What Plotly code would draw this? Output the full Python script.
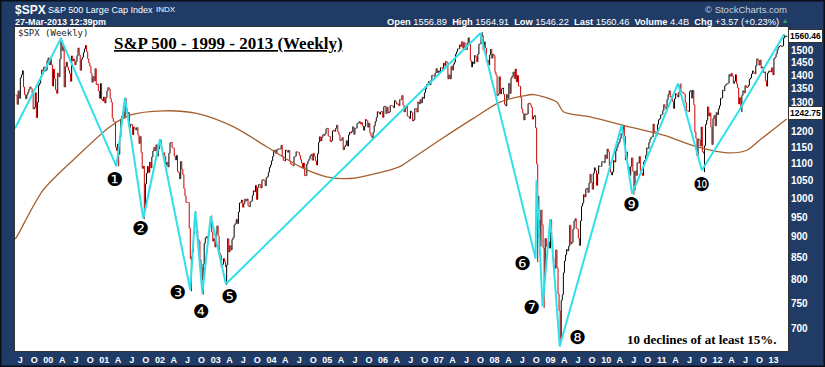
import numpy as np
import pandas as pd
import plotly.graph_objects as go

# ---------------- data: weekly closes of $SPX (week ending Friday) ----------------
c1999 = [1327.8,1293.6,1342.8,1315.3,1391.2,1403.3,1418.8,1356.9,1328.7,1313.7,1327.7,1336.6,1348.3,1357.2,1351.7,1335.4,
         1277.4,1282.8,1336.0,1247.4,1301.7,1362.9,1370.2,1396.1,1422.0,1416.6,1433.3,1417.0,1421.0,1458.3,1469.3]
c2000 = [1441.5,1465.2,1441.4,1360.2,1424.4,1387.1,1346.1,1333.4,1409.2,1395.1,1464.5,1527.5,1498.6,1516.4,1356.6,1434.5,
         1452.4,1432.6,1420.9,1406.9,1378.0,1477.3,1456.9,1464.5,1441.5,1454.6,1478.9,1509.9,1480.2,1419.9,1462.9,1471.8,
         1491.7,1506.5,1520.8,1494.5,1465.8,1449.1,1436.5,1408.9,1374.2,1396.9,1379.6,1426.7,1365.9,1367.7,1341.8,1315.2,
         1369.9,1312.2,1305.9,1320.3]
c2001 = [1298.4,1318.3,1342.5,1354.9,1349.5,1314.8,1301.5,1245.9,1234.2,1233.4,1150.5,1139.8,1160.3,1128.4,1183.5,1242.9,
         1253.1,1266.6,1245.7,1291.9,1277.9,1260.7,1264.96,1214.4,1225.4,1224.4,1190.6,1215.7,1210.9,1205.8,1214.4,1190.2,
         1161.97,1184.9,1133.6,1085.8,1092.5,965.8,1040.9,1071.4,1091.7,1073.5,1104.6,1087.2,1120.3,1138.7,1150.3,1139.5,
         1158.3,1123.1,1144.9,1161.0]
c2002 = [1172.5,1145.6,1127.6,1133.3,1122.2,1096.2,1104.2,1089.8,1131.8,1164.3,1166.2,1148.7,1147.4,1122.7,1111.0,1125.2,
         1076.3,1073.4,1054.99,1106.6,1083.8,1067.1,1027.5,1007.3,989.1,989.8,989.0,921.4,847.8,852.8,864.2,908.6,
         928.8,940.9,916.1,893.9,889.8,845.4,827.4,800.6,835.3,884.4,897.7,900.96,894.7,909.8,930.6,936.3,
         912.2,889.5,895.8,875.4]
c2003 = [908.6,927.6,901.8,861.4,855.7,829.7,834.9,848.2,841.2,828.9,833.3,895.8,863.5,878.9,868.3,893.6,
         898.8,930.1,933.4,944.3,933.2,963.6,987.8,988.6,995.7,976.2,985.7,998.1,993.3,998.7,980.2,977.6,
         990.7,993.1,1008.0,1021.4,1018.6,1036.3,996.9,1029.9,1038.7,1039.3,1028.9,1050.7,1053.2,1050.4,1035.3,1058.2,
         1061.5,1074.1,1088.7,1095.9]
c2004 = [1108.5,1121.9,1139.8,1141.6,1131.1,1142.8,1145.8,1144.1,1144.9,1156.9,1120.6,1109.8,1108.1,1141.8,1139.3,1134.6,
         1140.6,1107.3,1098.7,1095.7,1093.6,1120.7,1122.5,1136.5,1135.0,1134.4,1125.4,1112.8,1101.4,1086.2,1101.7,1063.97,
         1064.8,1098.6,1107.8,1113.6,1123.9,1128.6,1110.1,1131.5,1122.1,1108.2,1095.7,1130.2,1166.2,1184.2,1170.3,1182.7,
         1191.2,1188.0,1194.2,1210.1,1211.9]
c2005 = [1186.2,1184.5,1167.9,1171.4,1203.0,1205.3,1201.6,1211.4,1222.1,1200.1,1190.2,1171.4,1172.9,1181.2,1142.6,1152.1,
         1156.9,1171.4,1154.1,1189.3,1198.8,1196.0,1200.9,1216.96,1191.6,1211.9,1211.9,1227.9,1229.3,1234.2,1226.4,1230.4,
         1219.7,1205.1,1218.0,1241.5,1237.9,1215.3,1228.8,1195.9,1186.6,1179.6,1198.4,1220.1,1234.7,1248.3,1268.3,1265.1,
         1259.4,1267.3,1268.7,1248.3]
c2006 = [1285.5,1287.6,1261.5,1283.7,1264.0,1266.99,1289.4,1289.4,1287.2,1281.6,1307.3,1302.95,1294.8,1295.5,1289.1,1311.3,
         1310.6,1325.8,1291.2,1267.0,1280.2,1288.2,1252.3,1251.5,1244.5,1270.2,1265.5,1236.2,1240.3,1278.6,1279.4,1266.7,
         1302.3,1295.1,1311.0,1298.9,1319.7,1314.8,1335.85,1349.6,1365.6,1368.6,1377.3,1364.3,1380.9,1401.2,1400.95,1396.7,
         1409.8,1427.1,1410.8,1418.3]
c2007 = [1409.7,1430.7,1430.5,1422.2,1448.4,1438.1,1455.5,1451.2,1387.2,1402.8,1386.95,1436.1,1420.9,1443.8,1452.9,1484.4,
         1494.1,1505.6,1505.85,1522.8,1515.7,1536.3,1507.7,1532.9,1502.6,1503.35,1530.4,1552.5,1534.1,1458.95,1433.1,1453.6,
         1445.9,1479.4,1473.99,1453.55,1484.25,1525.75,1526.75,1557.6,1561.8,1500.6,1535.3,1509.65,1453.7,1458.7,1440.7,1481.1,
         1504.7,1467.95,1484.5,1478.5]
c2008 = [1411.6,1401.0,1325.2,1330.6,1395.4,1331.3,1349.99,1353.1,1330.6,1293.4,1288.1,1329.5,1315.2,1370.4,1332.8,1390.3,
         1397.8,1413.9,1388.3,1425.35,1375.9,1400.4,1360.7,1360.0,1317.9,1278.4,1262.9,1239.5,1260.7,1257.8,1260.3,1296.3,
         1298.2,1292.2,1282.8,1242.3,1251.7,1255.1,1213.3,1099.2,899.2,940.6,876.8,968.75,930.99,873.3,800.0,896.2,
         876.1,879.7,887.9,872.8]
c2009 = [931.8,890.4,850.1,831.95,825.9,868.6,826.8,770.05,735.1,683.4,756.55,768.5,815.9,842.5,856.6,869.6,
         866.2,877.5,929.2,882.9,887.0,919.1,940.1,946.2,921.2,918.9,896.4,879.1,940.4,979.3,987.5,1010.5,
         1004.1,1026.1,1028.9,1016.4,1042.7,1068.3,1044.4,1025.2,1071.5,1087.7,1079.6,1036.2,1069.3,1093.5,1091.4,1091.5,
         1105.98,1106.4,1102.5,1126.5]
c2010 = [1115.1,1144.98,1136.0,1091.8,1073.9,1066.2,1075.5,1109.2,1104.5,1138.7,1149.99,1159.9,1166.6,1178.1,1194.4,1192.1,
         1217.3,1186.7,1110.9,1135.7,1087.7,1089.4,1064.9,1091.6,1117.5,1076.8,1022.6,1078.0,1064.9,1102.7,1101.6,1121.6,
         1079.3,1071.7,1064.6,1104.5,1109.6,1125.6,1148.7,1146.2,1165.2,1176.2,1183.1,1183.3,1225.9,1199.2,1199.7,1189.4,
         1224.7,1240.4,1243.9,1256.8,1257.6]
c2011 = [1271.5,1293.2,1283.4,1276.3,1310.9,1329.2,1343.0,1319.9,1321.2,1304.3,1279.2,1313.8,1332.4,1328.2,1319.7,1337.4,
         1363.6,1340.2,1338.0,1333.3,1331.1,1300.2,1270.98,1271.5,1268.45,1339.7,1343.8,1316.1,1345.0,1292.3,1199.4,1178.8,
         1123.5,1176.8,1173.97,1154.2,1216.0,1136.4,1131.4,1155.5,1224.6,1238.3,1285.1,1253.2,1263.9,1215.65,1158.7,1244.3,
         1255.2,1219.7,1265.3,1257.6]
c2012 = [1277.8,1289.1,1315.4,1316.3,1344.9,1342.6,1361.2,1365.7,1369.6,1370.9,1404.2,1397.1,1408.5,1398.1,1370.3,1378.5,
         1403.4,1369.1,1353.4,1295.2,1317.8,1278.0,1325.7,1342.8,1335.0,1362.2,1354.7,1356.8,1362.7,1385.97,1390.99,1405.9,
         1418.2,1411.1,1406.6,1437.9,1465.8,1460.2,1440.7,1460.9,1428.6,1433.2,1411.9,1414.2,1379.9,1359.9,1409.2,1416.2,
         1418.1,1413.6,1430.2,1402.4]
c2013 = [1466.5,1472.1,1485.98,1502.96,1513.2,1517.9,1519.8,1515.6,1518.2,1551.2,1560.7,1556.9,1560.46]

year_first_friday = ['1999-06-04','2000-01-07','2001-01-05','2002-01-04','2003-01-03','2004-01-02','2005-01-07',
                     '2006-01-06','2007-01-05','2008-01-04','2009-01-02','2010-01-01','2011-01-07','2012-01-06','2013-01-04']
year_closes = [c1999,c2000,c2001,c2002,c2003,c2004,c2005,c2006,c2007,c2008,c2009,c2010,c2011,c2012,c2013]

# intraday extremes of the turning weeks
ext_dates = ['2000-03-24','2001-04-06','2001-05-25','2001-09-21','2002-01-04','2002-07-26','2002-08-23','2002-10-11',
             '2002-12-06','2003-03-14','2007-10-12','2008-10-10','2008-10-17','2008-11-21','2009-01-09','2009-03-06',
             '2010-04-30','2010-07-02','2011-05-06','2011-10-07','2012-06-08','2013-03-15']
ext_prices = [1552.9,1092.0,1315.9,944.8,1176.6,775.7,965.0,768.6,954.3,788.9,1576.1,839.8,1006.9,741.0,943.9,666.8,
              1219.8,1010.9,1370.6,1074.8,1266.7,1563.6]

# 200-week moving average
ma_dates = ['1999-05-28','1999-06-08','1999-11-28','2000-07-05','2001-02-08','2001-06-19','2002-01-23','2002-08-29',
            '2003-04-26','2003-12-01','2004-07-06','2004-12-28','2005-05-30','2005-11-20','2006-04-21','2006-06-27',
            '2007-01-10','2007-08-15','2008-02-06','2008-07-08','2008-09-12','2009-02-12','2009-03-27','2009-09-19',
            '2010-04-04','2011-01-12','2011-08-17','2012-03-01','2012-07-10','2012-10-05','2013-03-28']
ma_values = [895,900,1023,1121,1217,1256,1271,1262,1217,1152,1091,1061,1056,1071,1091,1111,
             1174,1245,1302,1324,1329,1302,1268,1250,1224,1189,1152,1133,1141,1174,1242.75]

# zigzag of declines (cyan)
zz_dates = ['1999-05-28','2000-03-23','2001-03-22','2001-05-17','2001-09-14','2002-01-02','2002-07-19','2002-08-20',
            '2002-10-06','2002-11-30','2003-03-09','2007-09-30','2008-09-26','2008-10-02','2008-11-11','2008-12-31',
            '2009-03-03','2010-04-13','2010-06-20','2011-04-17','2011-09-20','2012-05-16','2013-03-12']
zz_prices = [1212,1549,1092,1318,946,1176,778,964,772,953,791,1572,848,1050,744,945,
             667,1222,1013,1370,1080,1268,1568]

decline_labels = ['\u2776','\u2777','\u2778','\u2779','\u277A','\u277B','\u277C','\u277D','\u277E','\u277F']

y_ticks = [700,750,800,850,900,950,1000,1050,1100,1150,1200,1300,1350,1400,1450,1500]
year_labels = ['00','01','02','03','04','05','06','07','08','09','10','11','12','13']
quarter_letters = ['A','J','O']

# ---------------- build bars ----------------
dates, closes = [], []
for first, lst in zip(year_first_friday, year_closes):
    dates.extend(pd.date_range(first, periods=len(lst), freq='7D'))
    closes.extend(lst)
dates = pd.DatetimeIndex(dates)
closes = np.array(closes, dtype=float)
opens = np.concatenate([[closes[0]], closes[:-1]])
highs = np.maximum(opens, closes)
lows = np.minimum(opens, closes)
for d, p in zip(pd.to_datetime(ext_dates), ext_prices):
    i = min(dates.searchsorted(d), len(dates) - 1)
    highs[i] = max(highs[i], p)
    lows[i] = min(lows[i], p)

tick_text = ['J', 'O']
for yl in year_labels[:-1]:
    tick_text += [yl] + quarter_letters
tick_text += [year_labels[-1]]
tick_vals = pd.date_range('1999-07-01', periods=len(tick_text), freq='QS')

FRAME = '#1f3b66'
fig = go.Figure()
fig.add_trace(go.Ohlc(x=dates, open=opens, high=highs, low=lows, close=closes,
                      increasing=dict(line=dict(color='#000000', width=1)),
                      decreasing=dict(line=dict(color='#cc0000', width=1)),
                      tickwidth=0.3, hoverinfo='skip', showlegend=False))
fig.add_trace(go.Scatter(x=ma_dates, y=ma_values, mode='lines',
                         line=dict(color='#a65f2e', width=1.3, shape='spline', smoothing=0.8),
                         hoverinfo='skip', showlegend=False))
fig.add_trace(go.Scatter(x=zz_dates, y=zz_prices, mode='lines',
                         line=dict(color='#2fe0ea', width=2),
                         hoverinfo='skip', showlegend=False))

L, R, T, B = 15, 788, 27, 351
W, H = R - L, B - T


def P(px, py):
    return (px - L) / W, (B - py) / H


anns = []


def txt(px, py, text, size, color='white', xanchor='left', family='Liberation Sans', weight='normal', **kw):
    x, y = P(px, py)
    anns.append(dict(x=x, y=y, xref='paper', yref='paper', text=text, showarrow=False, xanchor=xanchor,
                     yanchor='middle', font=dict(size=size, color=color, family=family, weight=weight), **kw))


# header
txt(13, 10, '$SPX', 12, weight='bold')
txt(46, 10, 'S&P 500 Large Cap Index', 9)
txt(154, 10, 'INDX', 8)
txt(13, 22, '27-Mar-2013 12:39pm', 9, weight='bold')
txt(781, 22, '<b>Open</b> 1556.89  <b>High</b> 1564.91  <b>Low</b> 1546.22  <b>Last</b> 1560.46  '
             '<b>Volume</b> 4.4B  <b>Chg</b> +3.57 (+0.23%)', 9.3, xanchor='right')
txt(781, 21, '\u25b4', 8, color='#3aa35a')
txt(789, 10, '\u00a9 StockCharts.com', 9.5, color='#c9d2de', xanchor='right')

# inside plot
txt(16, 33, '$SPX (Weekly)', 9, color='#222222', family='DejaVu Sans Mono')
anns.append(dict(x=P(228, 43)[0], y=P(228, 43)[1], xref='paper', yref='paper',
                 text='S&P 500 - 1999 - 2013 (Weekly)', showarrow=False, xanchor='center', yanchor='middle',
                 font=dict(size=17, color='#000000', family='Liberation Serif', weight='bold', lineposition='under')))
txt(778, 339, '10 declines of at least 15%.', 13, color='#000000', xanchor='right',
    family='Liberation Serif', weight='bold')

num_pos = [(114.3, 179), (140.5, 228), (177.3, 292), (201.7, 311), (229, 295.7),
           (522.3, 262.7), (531.7, 306.7), (577, 337), (631, 204), (701.7, 184)]
for lab, (px, py) in zip(decline_labels, num_pos):
    txt(px, py, lab, 19, color='#000000', xanchor='center', family='DejaVu Sans')

# price flags on the right axis
for lab, py in [('1560.46', 35.6), ('1242.75', 113)]:
    txt(788, py, lab, 8.5, color='#000000', weight='bold', bgcolor='#ffffff', bordercolor='#333333',
        borderwidth=1, borderpad=1)

fig.update_layout(
    width=825, height=367,
    margin=dict(l=L, r=825 - R, t=T, b=367 - B, autoexpand=False),
    paper_bgcolor=FRAME, plot_bgcolor='#ffffff',
    showlegend=False,
    annotations=anns,
    shapes=[dict(type='rect', xref='paper', yref='paper',
                 x0=P(0.5, 0)[0], x1=P(824.5, 0)[0], y0=P(0, 366.5)[1], y1=P(0, 0.5)[1],
                 line=dict(color='#0b0f18', width=2), fillcolor='rgba(0,0,0,0)')],
    xaxis=dict(type='date', range=['1999-05-28', '2013-04-06'], tickvals=tick_vals, ticktext=tick_text,
               tickfont=dict(family='Liberation Sans', size=9, color='white', weight='bold'),
               showgrid=False, zeroline=False, showline=True, linecolor='#333333', mirror=True,
               ticks='', rangeslider=dict(visible=False), fixedrange=True, automargin=False),
    yaxis=dict(type='log', side='right', range=[np.log10(658.5), np.log10(1599)],
               tickvals=y_ticks, ticktext=[str(v) for v in y_ticks],
               tickfont=dict(family='Liberation Sans', size=10, color='white', weight='bold'),
               showgrid=False, zeroline=False, showline=True, linecolor='#333333', mirror=True,
               ticks='', fixedrange=True, automargin=False),
)

fig.write_html('out.html', config={'displayModeBar': False},
               post_script="document.body.style.margin='0';document.body.style.overflow='hidden';")
